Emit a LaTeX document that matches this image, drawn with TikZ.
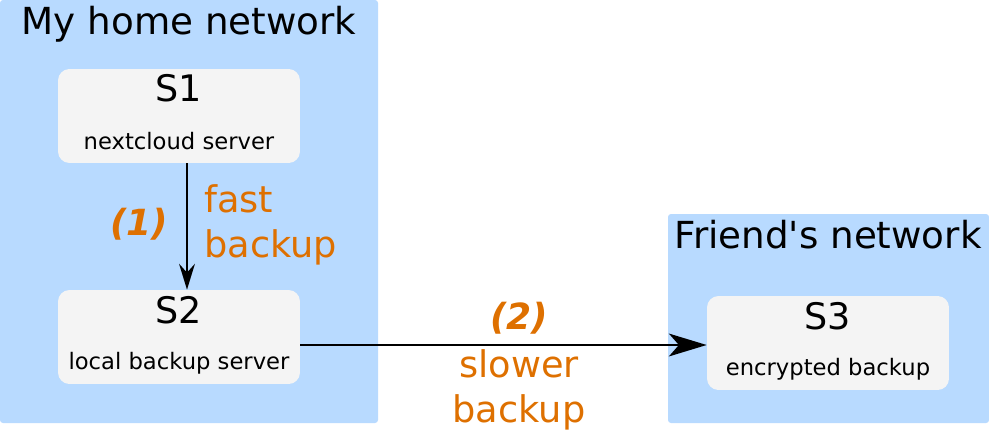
\documentclass[tikz,border=0pt]{standalone}
\usepackage{fontspec}
\setmainfont{DejaVu Sans}
\usepackage{tikz}
\usetikzlibrary{arrows.meta}

\definecolor{netblue}{RGB}{184,218,255}
\definecolor{srvgray}{RGB}{244,244,244}
\definecolor{bkorange}{RGB}{222,112,0}

\tikzset{
    net/.style={fill=netblue, rounded corners=1.7pt},
    server/.style={fill=srvgray, rounded corners=6.5pt, minimum width=4.84cm, minimum height=1.88cm, inner sep=0pt},
    title/.style={anchor=base, inner sep=0pt, font=\fontsize{21.2}{25}\selectfont},
    srvname/.style={anchor=base, inner sep=0pt, font=\fontsize{20.8}{24}\selectfont},
    srvtext/.style={anchor=base, inner sep=0pt, font=\fontsize{12.9}{15}\selectfont},
    step num/.style={anchor=base, inner sep=0pt, text=bkorange, font=\fontsize{20.5}{25}\selectfont\bfseries\itshape},
    speed/.style={inner sep=0pt, text=bkorange, font=\fontsize{20.9}{26}\selectfont},
    flow/.style={line width=1.2pt, -{Stealth[length=14.7pt, width=9pt, inset=5pt]}},
    long flow/.style={line width=1.2pt, -{Stealth[length=21.5pt, width=13pt, inset=5.7pt]}}
}

\begin{document}
\begin{tikzpicture}[x=0.02cm, y=-0.02cm]
            \useasboundingbox (0,0) rectangle (989,432);

            % Networks
            \fill[net] (0,0) rectangle (378,423);
            \fill[net] (668,214) rectangle (989,423);
            \node[title] (home) at (189,35) {My home network};
            \node[title] (friend) at (828,248) {Friend\textquotesingle s network};

            % Servers
            \node[server] (s1) at (179,116) {};
            \node[server] (s2) at (179,337) {};
            \node[server] (s3) at (828,343) {};

            \node[srvname] (s1name) at (179,102) {S1};
            \node[srvtext] (s1text) at (179,150) {nextcloud server};
            \node[srvname] (s2name) at (179,323) {S2};
            \node[srvtext] (s2text) at (179,369) {local backup server};
            \node[srvname] (s3name) at (828,329) {S3};
            \node[srvtext] (s3text) at (828,375) {encrypted backup};

            % Backups
            \draw[flow] ([xshift=0.16cm]s1.south) -- ([xshift=0.16cm]s2.north);
            \draw[long flow] ([yshift=-0.16cm]s2.east) -- ([yshift=-0.16cm]s2.east -| s3.west);

            \node[step num] (one) at (139,235) {(1)};
            \node[speed, anchor=north west, align=left] (fast) at (204,184) {fast\\backup};
            \node[step num] (two) at (519,329) {(2)};
            \node[speed, anchor=north, align=center] (slow) at (519,349) {slower\\backup};

        \end{tikzpicture}
\end{document}
